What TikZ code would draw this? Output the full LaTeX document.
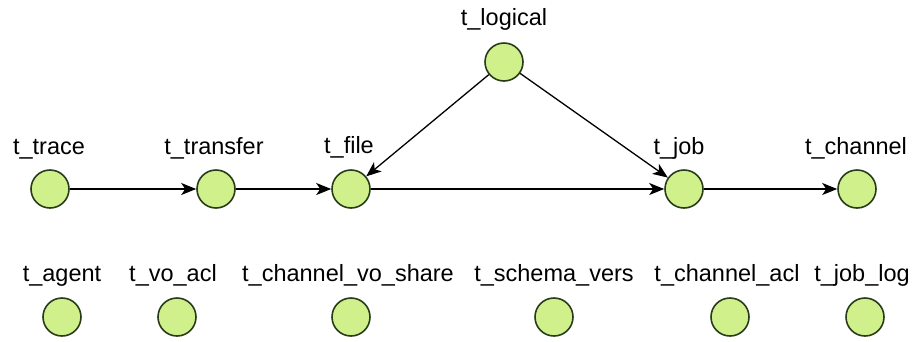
\documentclass[tikz,border=0pt]{standalone}
\usepackage{fontspec}
\setmainfont{Liberation Sans}
\usetikzlibrary{arrows.meta}
\definecolor{nodefill}{RGB}{208,240,140}
\definecolor{nodeline}{RGB}{40,60,25}
\begin{document}
\begin{tikzpicture}[x=1pt,y=-1pt,
  tbl/.style={circle,draw=nodeline,line width=1.6pt,fill=nodefill,minimum size=38pt,inner sep=0pt},
  lbl/.style={inner sep=0pt,anchor=base,font=\fontsize{23.5}{27}\selectfont},
  rel/.style={draw=black,line width=1.3pt,-{Stealth[length=15pt,width=12pt,inset=4pt]}}]
\useasboundingbox (0,0) rectangle (916,341);
% top row
\node[tbl] (trace) at (50,189) {};
\node[tbl] (transfer) at (216,189) {};
\node[tbl] (file) at (351,189) {};
\node[tbl] (logical) at (504,62) {};
\node[tbl] (job) at (684,189) {};
\node[tbl] (channel) at (857,189) {};
\node[lbl] (ltrace) at (49,154) {t\_trace};
\node[lbl] (ltransfer) at (214,154) {t\_transfer};
\node[lbl] (lfile) at (349,153) {t\_file};
\node[lbl] (llogical) at (504,25) {t\_logical};
\node[lbl] (ljob) at (679,154) {t\_job};
\node[lbl] (lchannel) at (856,154) {t\_channel};
% bottom row
\node[tbl] (agent) at (62,317) {};
\node[tbl] (voacl) at (177,317) {};
\node[tbl] (chvo) at (351,317) {};
\node[tbl] (schema) at (554,317) {};
\node[tbl] (chacl) at (730,317) {};
\node[tbl] (joblog) at (865,317) {};
\node[lbl] (lagent) at (62,281) {t\_agent};
\node[lbl] (lvoacl) at (173,281) {t\_vo\_acl};
\node[lbl] (lchvo) at (348,281) {t\_channel\_vo\_share};
\node[lbl] (lschema) at (554,281) {t\_schema\_vers};
\node[lbl] (lchacl) at (727,281) {t\_channel\_acl};
\node[lbl] (ljoblog) at (862,281) {t\_job\_log};
% edges
\draw[rel] (trace) -- (transfer);
\draw[rel] (transfer) -- (file);
\draw[rel] (file) -- (job);
\draw[rel] (job) -- (channel);
\draw[rel] (logical) -- (file);
\draw[rel] (logical) -- (job);
\end{tikzpicture}
\end{document}
